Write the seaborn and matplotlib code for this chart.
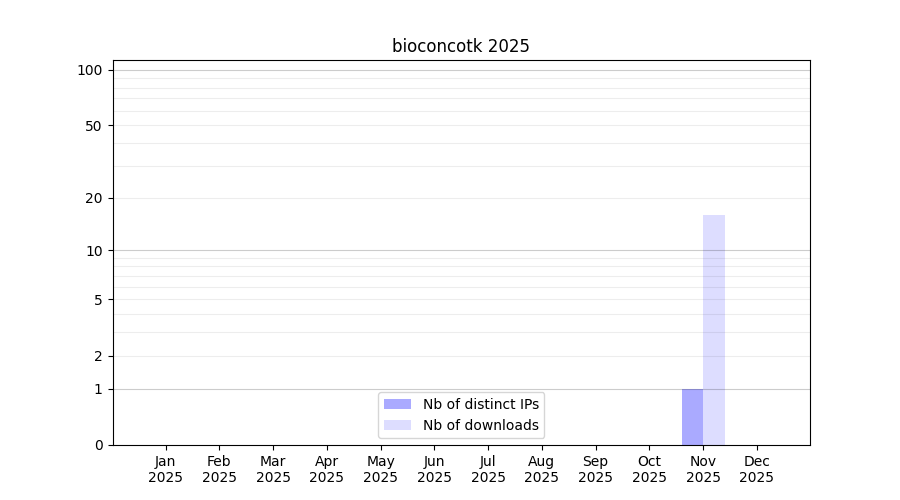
import numpy as np
import pandas as pd
import matplotlib
matplotlib.use('Agg')
import matplotlib.pyplot as plt
import seaborn as sns

# data
months = ['Jan', 'Feb', 'Mar', 'Apr', 'May', 'Jun',
          'Jul', 'Aug', 'Sep', 'Oct', 'Nov', 'Dec']
year = '2025'
distinct_ips = [0, 0, 0, 0, 0, 0, 0, 0, 0, 0, 1, 0]
downloads = [0, 0, 0, 0, 0, 0, 0, 0, 0, 0, 16, 0]
ytick_values = [0, 1, 2, 5, 10, 20, 50, 100]

labels = [m + '\n' + year for m in months]
df = pd.DataFrame({
    'month': labels * 2,
    'value': distinct_ips + downloads,
    'kind': ['Nb of distinct IPs'] * 12 + ['Nb of downloads'] * 12,
})

fig, ax = plt.subplots(figsize=(9, 5), dpi=100)
sns.barplot(data=df, x='month', y='value', hue='kind', ax=ax,
            palette=['#aaaaff', '#ddddff'], width=0.8, saturation=1,
            errorbar=None, zorder=1)

# log(1+x) axis
ax.set_yscale('function', functions=(lambda v: np.log10(np.clip(v, 0, None) + 1),
                                      lambda v: 10 ** v - 1))
ax.set_ylim(0, 113)
ax.set_xlim(-0.99, 11.99)
ax.set_yticks(ytick_values)
ax.set_yticklabels([str(v) for v in ytick_values])

# grid drawn over the bars (semi transparent), under the spines
minor = list(range(2, 10)) + list(range(20, 100, 10))
for v in minor:
    ax.axhline(v, color='black', alpha=0.07, linewidth=0.8, zorder=2)
for v in [1, 10, 100]:
    ax.axhline(v, color='black', alpha=0.2, linewidth=0.8, zorder=2.1)

ax.set_xlabel('')
ax.set_ylabel('')
ax.set_title('bioconcotk ' + year)
ax.legend(loc='lower center', title=None).set_zorder(5)

fig.savefig('out.png')
